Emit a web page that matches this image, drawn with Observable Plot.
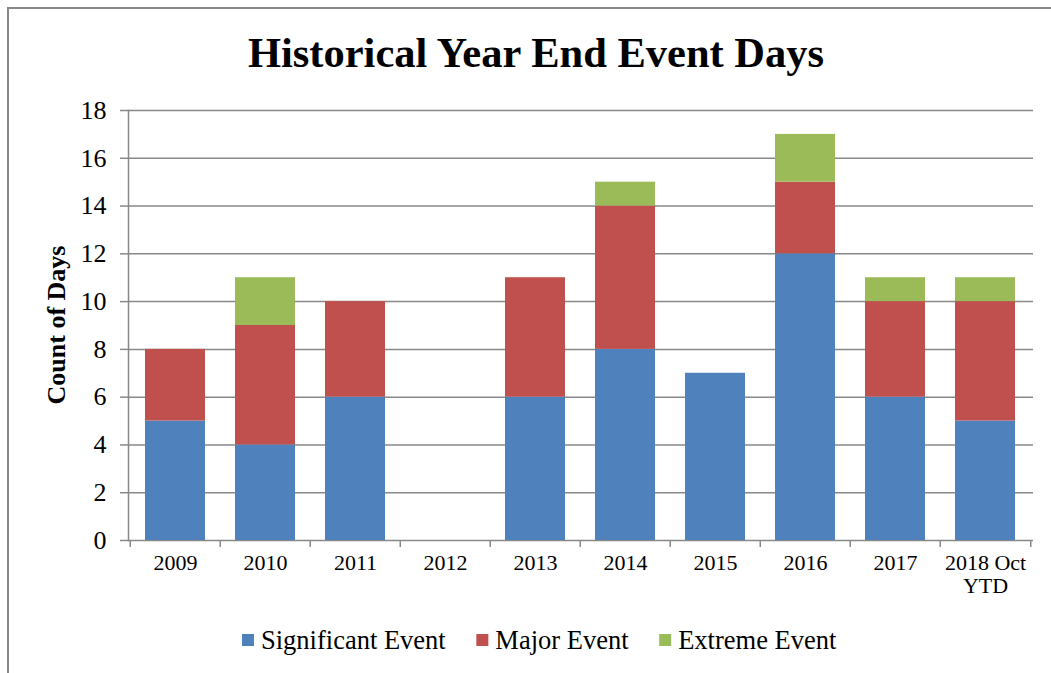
<!DOCTYPE html>
<html>
<head>
<meta charset="utf-8">
<script src="https://cdn.jsdelivr.net/npm/d3@7"></script>
<script src="https://cdn.jsdelivr.net/npm/@observablehq/plot@0.6"></script>
<style>
  body { margin: 0; background: #fff; font-family: "Liberation Serif", "Times New Roman", serif; }
  #wrap { position: relative; width: 1051px; height: 673px; overflow: hidden; }
  #frame { position: absolute; left: 7px; top: 7px; width: 1100px; height: 700px; border-left: 2px solid #888; border-top: 2px solid #888; box-sizing: border-box; }
  #title { position: absolute; left: 0; width: 1072px; top: 28px; text-align: center; font-weight: bold; font-size: 42.5px; color: #000; }
  #chart { position: absolute; left: 0; top: 90px; }
  #ylabel { position: absolute; left: 57px; top: 325px; transform: translate(-50%, -50%) rotate(-90deg); font-weight: bold; font-size: 26px; white-space: nowrap; }
  #legend { position: absolute; top: 615px; left: 0; }
</style>
</head>
<body>
<div id="wrap">
  <div id="frame"></div>
  <div id="title">Historical Year End Event Days</div>
  <div id="chart"></div>
  <div id="ylabel">Count of Days</div>
  <div id="legend"></div>
</div>
<script>
const categories = ["2009", "2010", "2011", "2012", "2013", "2014", "2015", "2016", "2017", "2018 Oct YTD"];
const significant = [5, 4, 6, 0, 6, 8, 7, 12, 6, 5];
const major = [3, 5, 4, 0, 5, 6, 0, 3, 4, 5];
const extreme = [0, 2, 0, 0, 0, 1, 0, 2, 1, 1];
const seriesNames = ["Significant Event", "Major Event", "Extreme Event"];
const seriesColors = ["#4F81BD", "#C0504D", "#9BBB59"];
const yTicks = [0, 2, 4, 6, 8, 10, 12, 14, 16, 18];

const seriesValues = [significant, major, extreme];
const data = [];
seriesNames.forEach((s, si) => {
  categories.forEach((c, ci) => data.push({ category: c, series: s, value: seriesValues[si][ci] }));
});

const W = 1051, H = 520;
const mL = 128, mR = 18, mT = 20, mB = 70;
const step = (W - mL - mR) / categories.length;

const chart = Plot.plot({
  width: W,
  height: H,
  marginLeft: mL,
  marginRight: mR,
  marginTop: mT,
  marginBottom: mB,
  style: { fontFamily: "'Liberation Serif', 'Times New Roman', serif", color: "#000", background: "transparent" },
  x: { domain: categories, paddingInner: 0.33, paddingOuter: 0.165, label: null },
  y: { domain: [0, 18], ticks: yTicks, label: null },
  color: { domain: seriesNames, range: seriesColors },
  marks: [
    Plot.ruleY(yTicks, { y: d => d, stroke: "#888", strokeWidth: 1.5 }),
    Plot.barY(data, { x: "category", y: "value", fill: "series", order: seriesNames }),
    Plot.axisY({ ticks: yTicks, tickSize: 8, tickPadding: 14, fontSize: 26, stroke: "#888", strokeWidth: 1.5 }),
    Plot.frame({ anchor: "left", stroke: "#888", strokeWidth: 1.5 }),
    Plot.ruleX(categories, { x: d => d, y1: 0, y2: 0, dx: -step / 2, insetBottom: -7, stroke: "#888", strokeWidth: 1.5 }),
    Plot.ruleX(categories.slice(-1), { x: d => d, y1: 0, y2: 0, dx: step / 2, insetBottom: -7, stroke: "#888", strokeWidth: 1.5 }),
    Plot.axisX({ tickSize: 0, tickPadding: 13, fontSize: 22, lineWidth: 5, lineHeight: 1.05, textOverflow: null,
      tickFormat: d => d }),
  ]
});
document.getElementById("chart").appendChild(chart);

// Legend as SVG (serif text), items laid out by measured width and centred
const lsvg = d3.select("#legend").append("svg")
  .attr("width", W).attr("height", 50)
  .style("font-family", "'Liberation Serif', 'Times New Roman', serif")
  .style("font-size", "26.5px");
const gap = 30, swSize = 12, swGap = 7;
const items = lsvg.selectAll("g").data(seriesNames).join("g");
items.append("rect").attr("width", swSize).attr("height", swSize).attr("y", 19)
  .attr("fill", (d, i) => seriesColors[i]);
items.append("text").attr("x", swSize + swGap).attr("y", 34).attr("fill", "#000").text(d => d);
const widths = [];
items.each(function() { widths.push(this.getBBox().width); });
const total = d3.sum(widths) + gap * (widths.length - 1);
let x0 = (W - total) / 2 + 14;
items.attr("transform", (d, i) => { const t = `translate(${x0},0)`; x0 += widths[i] + gap; return t; });
</script>
</body>
</html>
